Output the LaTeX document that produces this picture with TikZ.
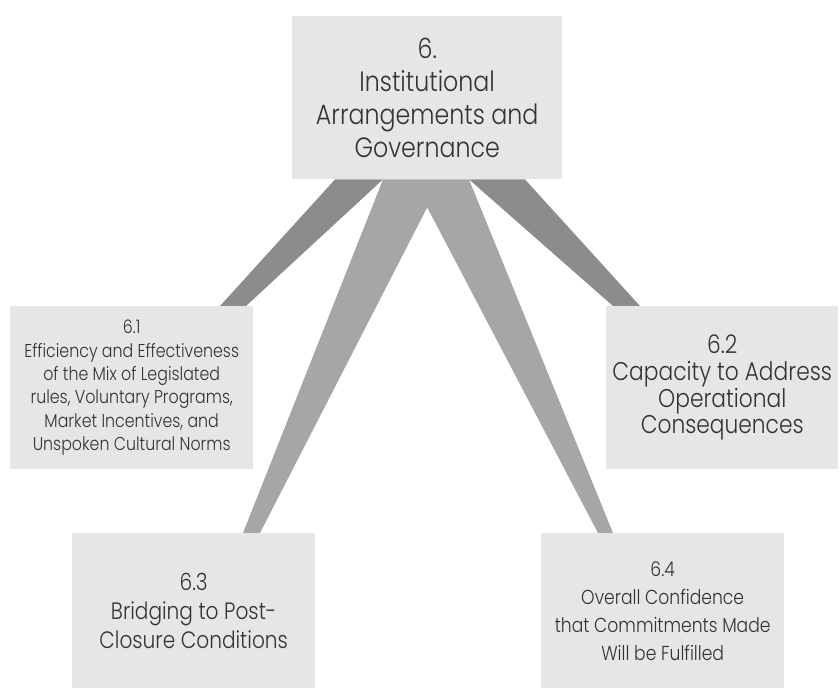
\documentclass[tikz,border=0pt]{standalone}
\usepackage{fontspec}
\setmainfont{Poppins Light}[FakeStretch=0.85]
\usetikzlibrary{calc}
\pgfdeclarelayer{bg}
\pgfsetlayers{bg,main}
\definecolor{boxfill}{HTML}{E6E6E6}
\definecolor{darkwedge}{HTML}{8C8C8C}
\definecolor{lightwedge}{HTML}{A6A6A6}
\definecolor{txt}{HTML}{333333}
\begin{document}
\begin{tikzpicture}[x=1pt,y=-1pt,
  box/.style={fill=boxfill, draw=none, inner sep=0pt, align=center, text=txt, anchor=north west}]
\useasboundingbox (0,0) rectangle (840,688);
\node[box, minimum width=270pt, minimum height=163pt, font=\fontsize{27.9}{33}\selectfont] (top) at (292,16)
  {6.\\Institutional\\Arrangements and\\Governance};
\node[box, minimum width=243pt, minimum height=163pt, font=\fontsize{18.6}{23.3}\selectfont] (b61) at (10,306)
  {6.1\\Efficiency and Effectiveness\\of the Mix of Legislated\\rules, Voluntary Programs,\\Market Incentives, and\\Unspoken Cultural Norms};
\node[box, minimum width=232pt, minimum height=163pt, font=\fontsize{25.6}{26.7}\selectfont] (b62) at (606,306)
  {6.2\\Capacity to Address\\Operational\\Consequences};
\node[box, minimum width=243pt, minimum height=155pt, font=\fontsize{23.7}{29}\selectfont] (b63) at (72,533)
  {6.3\\Bridging to Post-\\Closure Conditions};
\node[box, minimum width=243pt, minimum height=155pt, font=\fontsize{20.2}{28}\selectfont] (b64) at (541,533)
  {6.4\\Overall Confidence\\that Commitments Made\\Will be Fulfilled};
\begin{pgfonlayer}{bg}
\fill[darkwedge] ($(top.south west)+(43,0)$) -- ($(b61.north west)+(210,0)$) -- ($(b61.north west)+(236,0)$) -- ($(top.south west)+(91,0)$) -- cycle;
\fill[darkwedge] ($(top.south west)+(177,0)$) -- ($(b62.north west)+(7,0)$) -- ($(b62.north west)+(34,0)$) -- ($(top.south west)+(233,0)$) -- cycle;
\fill[lightwedge] ($(top.south west)+(91,0)$) -- ($(b63.north west)+(171,0)$) -- ($(b63.north west)+(188,0)$) -- ($(top.south)+(0,28)$) -- ($(b64.north west)+(57,0)$) -- ($(b64.north west)+(72,0)$) -- ($(top.south west)+(177,0)$) -- cycle;
\end{pgfonlayer}
\end{tikzpicture}
\end{document}
